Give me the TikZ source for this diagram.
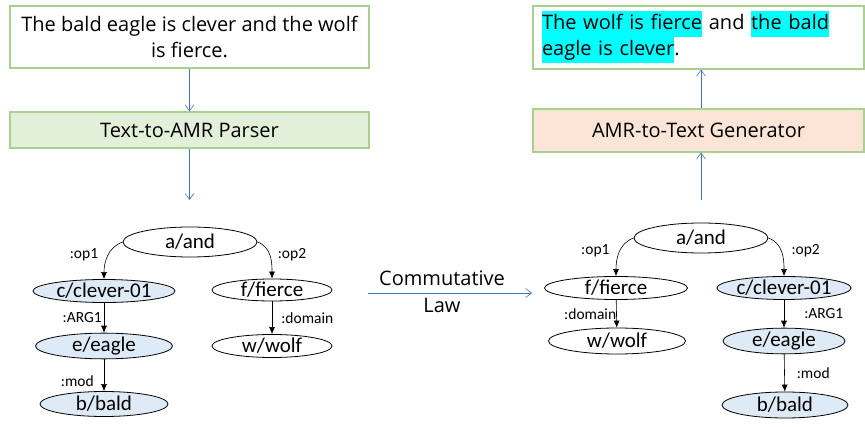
\documentclass[tikz,border=0pt]{standalone}
\usepackage{fontspec}
\setmainfont{Carlito}
\newfontfamily\boxfont{Open Sans}
\usetikzlibrary{shapes.geometric,arrows.meta}
\definecolor{boxgreen}{HTML}{A9D18E}
\definecolor{parserfill}{HTML}{E2F0D9}
\definecolor{genfill}{HTML}{FBE5D6}
\definecolor{flowblue}{HTML}{4472C4}
\definecolor{nodeblue}{HTML}{DEEBF7}
\definecolor{hlcyan}{HTML}{00FFFF}
\newcommand{\hlword}[1]{{\setlength{\fboxsep}{0pt}\colorbox{hlcyan}{\strut #1}}}

\begin{document}
\begin{tikzpicture}[%
    x=1pt, y=-1pt,
    textbox/.style={
      rectangle,
      draw=boxgreen,
      line width=1.2pt,
      font=\boxfont\fontsize{20}{26}\selectfont,
      inner sep=0pt
    },
    amr/.style={
      ellipse,
      draw=black,
      thick,
      inner sep=0pt,
      font=\fontsize{21}{24}\selectfont
    },
    lab/.style={
      font=\fontsize{15.5}{17}\selectfont,
      inner sep=0pt
    },
    flow/.style={
      draw=flowblue,
      line width=0.6pt,
      -{Straight Barb[length=6pt,width=9pt]}
    },
    rel/.style={
      draw=black,
      line width=0.6pt,
      -{Latex[length=7pt,width=6pt]}
    }
  ]
    \useasboundingbox (0,0) rectangle (865,427);

    % parsing side
    \node[textbox, fill=white, minimum width=359pt, minimum height=62pt,
      align=center] (input) at (189.5,37)
      {The bald eagle is clever and the wolf\\ is fierce.};
    \node[textbox, fill=parserfill, minimum width=359pt, minimum height=36pt]
      (parser) at (189.5,130) {Text-to-AMR Parser};
    \coordinate (parsed) at (189.5,200);
    \draw[flow] (input) -- (parser);
    \draw[flow] (parser) -- (parsed);

    \node[amr, minimum width=134pt, minimum height=30pt] (and1) at (190,242) {a/and};
    \node[amr, fill=nodeblue, minimum width=142pt, minimum height=23pt] (clever1) at (104,291) {c/clever-01};
    \node[amr, minimum width=120pt, minimum height=22pt] (fierce1) at (272,290) {f/fierce};
    \node[amr, fill=nodeblue, minimum width=137pt, minimum height=23pt] (eagle1) at (104,346) {e/eagle};
    \node[amr, minimum width=120pt, minimum height=23pt] (wolf1) at (272,346) {w/wolf};
    \node[amr, fill=nodeblue, minimum width=128pt, minimum height=25pt] (bald1) at (104,404) {b/bald};

    \draw[rel] (and1.west) to[out=200,in=90]
      node[lab, pos=0.45, left=10pt] {:op1} (clever1.north);
    \draw[rel] (and1.east) to[out=-20,in=90]
      node[lab, pos=0.45, right=8pt] {:op2} (fierce1.north);
    \draw[rel] (clever1) -- node[lab, left=2pt] {:ARG1} (eagle1);
    \draw[rel] (fierce1) -- node[lab, right=9pt] {:domain} (wolf1);
    \draw[rel] (eagle1) -- node[lab, pos=0.7, left=10pt] {:mod} (bald1);

    % commutative law
    \coordinate (swap) at (368,293);
    \node[amr, minimum width=143pt, minimum height=23pt] (fierce2) at (616,288) {f/fierce};
    \draw[flow] (swap) -- ([xshift=-12pt]fierce2.west |- swap);
    \node[font=\boxfont\fontsize{20}{27}\selectfont, align=center, inner sep=0pt]
      (law) at (442,292) {Commutative\\Law};

    % generation side
    \node[amr, minimum width=134pt, minimum height=30pt] (and2) at (701,238) {a/and};
    \node[amr, fill=nodeblue, minimum width=121pt, minimum height=23pt] (clever2) at (784,288) {c/clever-01};
    \node[amr, minimum width=137pt, minimum height=26pt] (wolf2) at (617,341) {w/wolf};
    \node[amr, fill=nodeblue, minimum width=122pt, minimum height=25pt] (eagle2) at (784,341) {e/eagle};
    \node[amr, fill=nodeblue, minimum width=126pt, minimum height=26pt] (bald2) at (785,405) {b/bald};

    \draw[rel] (and2.west) to[out=200,in=90]
      node[lab, pos=0.45, left=10pt] {:op1} (fierce2.north);
    \draw[rel] (and2.east) to[out=-20,in=90]
      node[lab, pos=0.45, right=10pt] {:op2} (clever2.north);
    \draw[rel] (fierce2) -- node[lab, left=0pt] {:domain} (wolf2);
    \draw[rel] (clever2) -- node[lab, right=20pt] {:ARG1} (eagle2);
    \draw[rel] (eagle2) -- node[lab, right=12pt] {:mod} (bald2);

    \coordinate (graph) at (701,200);
    \node[textbox, fill=genfill, minimum width=331pt, minimum height=43pt]
      (generator) at (698.5,130.5) {AMR-to-Text Generator};
    \node[textbox, fill=white, minimum width=331pt, minimum height=63pt,
      text width=313pt, align=left] (output) at (698.5,37.5)
      {\hlword{The wolf is fierce} and \hlword{the bald}\\
       \hlword{eagle is clever}.};
    \draw[flow] (graph) -- (generator.south -| graph);
    \draw[flow] (generator.north -| graph) -- (output.south -| graph);

  \end{tikzpicture}
\end{document}
